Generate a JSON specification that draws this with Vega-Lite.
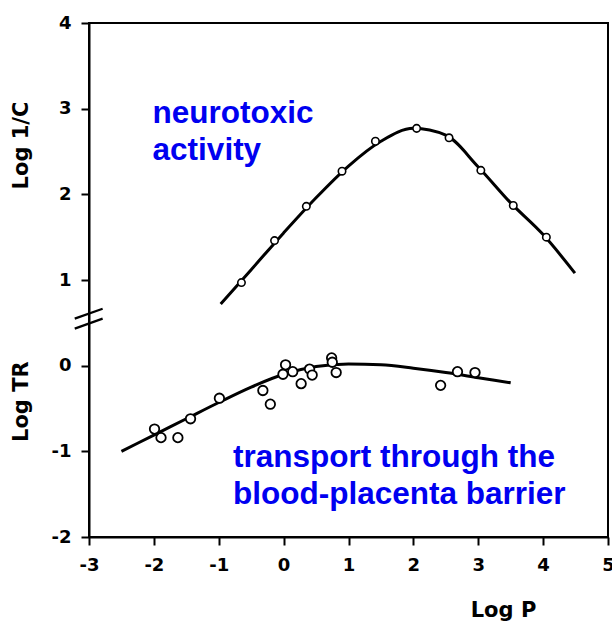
{
  "$schema": "https://vega.github.io/schema/vega-lite/v6.json",
  "autosize": {"type": "none"},
  "padding": {"left": 89, "top": 23, "right": 4, "bottom": 90},
  "width": 519,
  "height": 514,
  "background": "white",
  "config": {
    "view": {"stroke": "black", "strokeWidth": 2},
    "axis": {
      "domainColor": "black", "domainWidth": 2,
      "tickColor": "black", "tickWidth": 2, "tickSize": 8,
      "labelFont": "DejaVu Sans", "labelFontWeight": "bold", "labelFontSize": 18, "labelColor": "black",
      "titleFont": "DejaVu Sans", "titleFontWeight": "bold", "titleFontSize": 21, "titleColor": "black",
      "grid": false
    }
  },
  "datasets": {
    "curves": [
      {"series": "neuro", "logP": -0.97, "value": 0.72},
      {"series": "neuro", "logP": -0.5, "value": 1.12},
      {"series": "neuro", "logP": 0.0, "value": 1.55},
      {"series": "neuro", "logP": 0.5, "value": 1.96},
      {"series": "neuro", "logP": 1.0, "value": 2.33},
      {"series": "neuro", "logP": 1.5, "value": 2.62},
      {"series": "neuro", "logP": 2.0, "value": 2.77},
      {"series": "neuro", "logP": 2.5, "value": 2.69},
      {"series": "neuro", "logP": 3.0, "value": 2.32},
      {"series": "neuro", "logP": 3.5, "value": 1.9},
      {"series": "neuro", "logP": 4.0, "value": 1.53},
      {"series": "neuro", "logP": 4.49, "value": 1.08},
      {"series": "tr", "logP": -2.5, "value": -1.0},
      {"series": "tr", "logP": -2.0, "value": -0.81},
      {"series": "tr", "logP": -1.5, "value": -0.62},
      {"series": "tr", "logP": -1.0, "value": -0.43},
      {"series": "tr", "logP": -0.5, "value": -0.25},
      {"series": "tr", "logP": 0.0, "value": -0.1},
      {"series": "tr", "logP": 0.5, "value": -0.01},
      {"series": "tr", "logP": 1.0, "value": 0.02},
      {"series": "tr", "logP": 1.5, "value": 0.01},
      {"series": "tr", "logP": 2.0, "value": -0.03},
      {"series": "tr", "logP": 2.5, "value": -0.08},
      {"series": "tr", "logP": 3.0, "value": -0.14},
      {"series": "tr", "logP": 3.5, "value": -0.2}
    ],
    "points": [
      {"series": "neuro", "logP": -0.65, "value": 0.97},
      {"series": "neuro", "logP": -0.14, "value": 1.46},
      {"series": "neuro", "logP": 0.35, "value": 1.86},
      {"series": "neuro", "logP": 0.9, "value": 2.27},
      {"series": "neuro", "logP": 1.415, "value": 2.62},
      {"series": "neuro", "logP": 2.05, "value": 2.77},
      {"series": "neuro", "logP": 2.55, "value": 2.66},
      {"series": "neuro", "logP": 3.04, "value": 2.28},
      {"series": "neuro", "logP": 3.54, "value": 1.87},
      {"series": "neuro", "logP": 4.05, "value": 1.5},
      {"series": "tr", "logP": -1.99, "value": -0.74},
      {"series": "tr", "logP": -1.89, "value": -0.84},
      {"series": "tr", "logP": -1.63, "value": -0.84},
      {"series": "tr", "logP": -1.435, "value": -0.62},
      {"series": "tr", "logP": -0.99, "value": -0.38},
      {"series": "tr", "logP": -0.32, "value": -0.29},
      {"series": "tr", "logP": -0.205, "value": -0.45},
      {"series": "tr", "logP": -0.01, "value": -0.1},
      {"series": "tr", "logP": 0.03, "value": 0.01},
      {"series": "tr", "logP": 0.14, "value": -0.07},
      {"series": "tr", "logP": 0.27, "value": -0.21},
      {"series": "tr", "logP": 0.4, "value": -0.04},
      {"series": "tr", "logP": 0.44, "value": -0.11},
      {"series": "tr", "logP": 0.74, "value": 0.09},
      {"series": "tr", "logP": 0.75, "value": 0.04},
      {"series": "tr", "logP": 0.81, "value": -0.08},
      {"series": "tr", "logP": 2.42, "value": -0.23},
      {"series": "tr", "logP": 2.68, "value": -0.07},
      {"series": "tr", "logP": 2.95, "value": -0.08}
    ],
    "notes": [
      {"label": "neurotoxic", "logP": -2.02, "value": 2.833},
      {"label": "activity", "logP": -2.02, "value": 2.405},
      {"label": "transport through the", "logP": -0.78, "value": -1.187},
      {"label": "blood-placenta barrier", "logP": -0.78, "value": -1.614}
    ],
    "ytitles": [
      {"label": "Log 1/C", "logP": -4.04, "value": 2.57},
      {"label": "Log TR", "logP": -4.03, "value": -0.42}
    ],
    "breaks": [
      {"logP": -3.22, "value": 0.549, "logP2": -2.79, "value2": 0.665},
      {"logP": -3.22, "value": 0.432, "logP2": -2.79, "value2": 0.549}
    ]
  },
  "encoding": {
    "x": {"field": "logP", "type": "quantitative",
      "scale": {"domain": [-3, 5], "nice": false, "zero": false},
      "axis": {"values": [-3, -2, -1, 0, 1, 2, 3, 4, 5], "title": "Log P", "labelPadding": 11,
        "labelExpr": "'' + datum.value",
        "titleX": 414, "titleY": 73, "titleAlign": "center", "titleBaseline": "middle", "labelFlush": false}},
    "y": {"field": "value", "type": "quantitative",
      "scale": {"domain": [-2, 4], "nice": false, "zero": false},
      "axis": {"values": [-2, -1, 0, 1, 2, 3, 4], "title": null, "labelPadding": 10, "labelFlush": false,
        "labelExpr": "'' + datum.value"}}
  },
  "layer": [
    {
      "data": {"name": "curves"},
      "mark": {"type": "line", "color": "black", "strokeWidth": 3, "interpolate": "monotone"},
      "encoding": {"detail": {"field": "series"}}
    },
    {
      "data": {"name": "points"},
      "transform": [{"filter": "datum.series === 'neuro'"}],
      "mark": {"type": "point", "shape": "circle", "filled": true, "fill": "white", "fillOpacity": 1, "stroke": "black", "strokeWidth": 1.6, "opacity": 1, "size": 55}
    },
    {
      "data": {"name": "points"},
      "transform": [{"filter": "datum.series === 'tr'"}],
      "mark": {"type": "point", "shape": "circle", "filled": true, "fill": "white", "fillOpacity": 1, "stroke": "black", "strokeWidth": 1.8, "opacity": 1, "size": 90}
    },
    {
      "data": {"name": "notes"},
      "mark": {"type": "text", "align": "left", "baseline": "alphabetic", "font": "Liberation Sans", "fontWeight": "bold", "fontSize": 31.5, "color": "#0000f0"},
      "encoding": {"text": {"field": "label"}}
    },
    {
      "data": {"name": "ytitles"},
      "mark": {"type": "text", "align": "center", "baseline": "middle", "angle": 270, "font": "DejaVu Sans", "fontWeight": "bold", "fontSize": 21, "color": "black"},
      "encoding": {"text": {"field": "label"}}
    },
    {
      "data": {"name": "breaks"},
      "mark": {"type": "rule", "color": "black", "strokeWidth": 2.2},
      "encoding": {"x2": {"field": "logP2"}, "y2": {"field": "value2"}}
    }
  ]
}
